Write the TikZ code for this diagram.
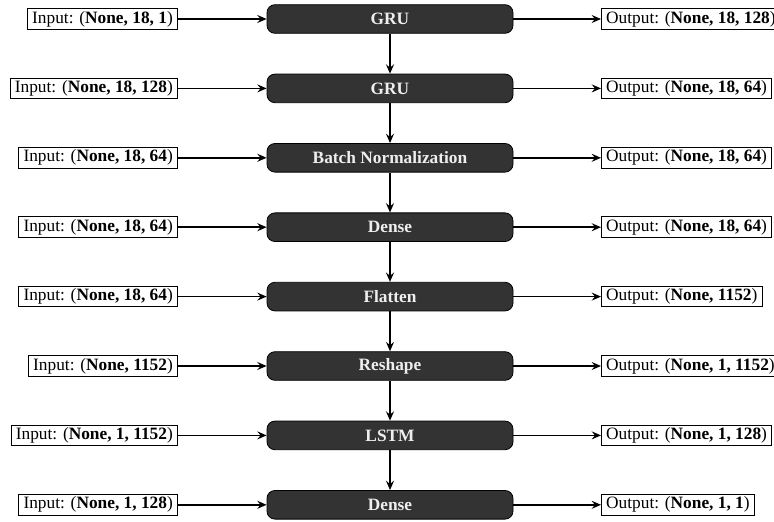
\documentclass[tikz,border=0pt]{standalone}
\usepackage{fontspec}
\setmainfont{Liberation Serif}
\usepackage{xcolor,tikz}
\usetikzlibrary{arrows.meta,positioning,calc}
\definecolor{layerfill}{HTML}{333333}
\definecolor{layertext}{HTML}{EEEEEE}
\tikzset{layerbox/.style={draw=black,line width=0.6pt,rounded corners=6pt,fill=layerfill,text=layertext,font=\fontsize{13}{15}\selectfont\bfseries,minimum width=184.5pt,minimum height=21.5pt,inner sep=0pt},shapebox/.style={draw=black,line width=0.8pt,fill=white,font=\fontsize{13}{15}\selectfont,inner xsep=3.5pt,inner ysep=1.8pt},flowarr/.style={-{Stealth[length=7pt,width=6pt,inset=2.5pt]},line width=1.1pt}}

\begin{document}
\begin{tikzpicture}[x=0.75pt,y=-0.75pt]
\useasboundingbox (0,0) rectangle (774,521);
\node[layerbox] (gru1) at (390,19) {GRU};
\node[shapebox,anchor=east] (in1) at (178,19) {Input: (\textbf{None, 18, 1})};
\node[shapebox,anchor=west] (out1) at (601,19) {Output: (\textbf{None, 18, 128})};
\node[layerbox] (gru2) at (390,88.4) {GRU};
\node[shapebox,anchor=east] (in2) at (178,88.4) {Input: (\textbf{None, 18, 128})};
\node[shapebox,anchor=west] (out2) at (601,88.4) {Output: (\textbf{None, 18, 64})};
\node[layerbox] (bn) at (390,157.8) {Batch Normalization};
\node[shapebox,anchor=east] (in3) at (178,157.8) {Input: (\textbf{None, 18, 64})};
\node[shapebox,anchor=west] (out3) at (601,157.8) {Output: (\textbf{None, 18, 64})};
\node[layerbox] (dense1) at (390,227.2) {Dense};
\node[shapebox,anchor=east] (in4) at (178,227.2) {Input: (\textbf{None, 18, 64})};
\node[shapebox,anchor=west] (out4) at (601,227.2) {Output: (\textbf{None, 18, 64})};
\node[layerbox] (flat) at (390,296.6) {Flatten};
\node[shapebox,anchor=east] (in5) at (178,296.6) {Input: (\textbf{None, 18, 64})};
\node[shapebox,anchor=west] (out5) at (601,296.6) {Output: (\textbf{None, 1152})};
\node[layerbox] (resh) at (390,366) {Reshape};
\node[shapebox,anchor=east] (in6) at (178,366) {Input: (\textbf{None, 1152})};
\node[shapebox,anchor=west] (out6) at (601,366) {Output: (\textbf{None, 1, 1152})};
\node[layerbox] (lstm) at (390,435.4) {LSTM};
\node[shapebox,anchor=east] (in7) at (178,435.4) {Input: (\textbf{None, 1, 1152})};
\node[shapebox,anchor=west] (out7) at (601,435.4) {Output: (\textbf{None, 1, 128})};
\node[layerbox] (dense2) at (390,504.8) {Dense};
\node[shapebox,anchor=east] (in8) at (178,504.8) {Input: (\textbf{None, 1, 128})};
\node[shapebox,anchor=west] (out8) at (601,504.8) {Output: (\textbf{None, 1, 1})};
% inputs and outputs
\draw[flowarr] (in1)--(gru1); \draw[flowarr] (gru1)--(out1);
\draw[flowarr] (in2)--(gru2); \draw[flowarr] (gru2)--(out2);
\draw[flowarr] (in3)--(bn); \draw[flowarr] (bn)--(out3);
\draw[flowarr] (in4)--(dense1); \draw[flowarr] (dense1)--(out4);
\draw[flowarr] (in5)--(flat); \draw[flowarr] (flat)--(out5);
\draw[flowarr] (in6)--(resh); \draw[flowarr] (resh)--(out6);
\draw[flowarr] (in7)--(lstm); \draw[flowarr] (lstm)--(out7);
\draw[flowarr] (in8)--(dense2); \draw[flowarr] (dense2)--(out8);
% layer chain
\draw[flowarr] (gru1)--(gru2);
\draw[flowarr] (gru2)--(bn);
\draw[flowarr] (bn)--(dense1);
\draw[flowarr] (dense1)--(flat);
\draw[flowarr] (flat)--(resh);
\draw[flowarr] (resh)--(lstm);
\draw[flowarr] (lstm)--(dense2);
\end{tikzpicture}
\end{document}
